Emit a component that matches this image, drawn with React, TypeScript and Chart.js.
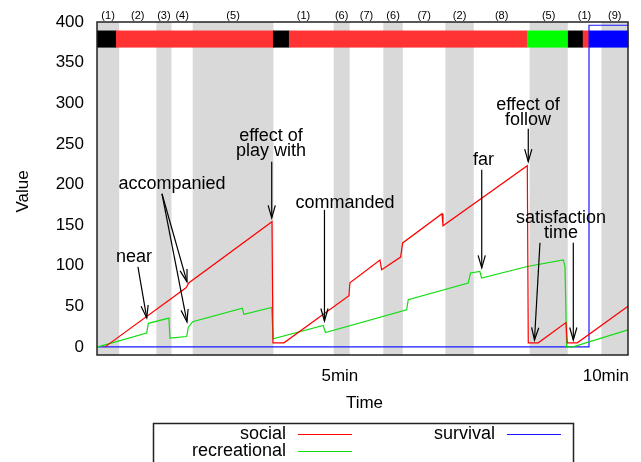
import React, { useEffect, useRef } from "react";
import { Chart, registerables } from "chart.js";

Chart.register(...registerables);

const FONT = '"Liberation Sans", Arial, Helvetica, sans-serif';

// ---- data (time in seconds, value) ----
const SERIES_NAMES = ["social", "recreational", "survival"];

const SOCIAL_T = [35, 126.4, 129.8, 223.4, 224.5, 236.9, 310.2, 311.3, 345.2, 347.1, 368.5, 370.8, 415.2, 416.3, 511.4, 512.5, 523.8, 555.0, 556.5, 567.8, 625];
const SOCIAL_V = [0, 72.7, 79, 154, 5, 5, 63, 79, 107, 95, 110.6, 128, 164, 149, 223, 5, 5, 30, 5, 5, 50];

const RECREATIONAL_T = [27, 82, 83.9, 107.2, 108.3, 127.2, 129, 133.9, 189.9, 191.8, 223, 224.8, 281.2, 283.7, 375.3, 377.1, 444.7, 447.4, 457.9, 459.8, 511.4, 552, 553.9, 555.8, 563, 625];
const RECREATIONAL_V = [0, 17, 29, 35.4, 10.7, 12.7, 24, 31, 47.7, 40, 48.5, 10, 26.3, 17.7, 45.6, 58, 78.5, 91, 93, 84.7, 99, 107, 99, 0, 0, 21];

const SURVIVAL_T = [26, 581, 581, 625];
const SURVIVAL_V = [0, 0, 396, 396];

const Y_TICKS = [0, 50, 100, 150, 200, 250, 300, 350, 400];
const X_TICKS = [300, 600];
const X_TICK_LABELS = ["5min", "10min"];

const BAND_LABELS = ["(1)", "(2)", "(3)", "(4)", "(5)", "(1)", "(6)", "(7)", "(6)", "(7)", "(2)", "(8)", "(5)", "(1)", "(9)"];
const BAND_EDGES = [26, 51, 93, 110, 134, 225, 293, 311, 349, 371, 419, 451, 514, 557, 595, 625];

const STATE_EDGES = [26, 47.4, 224.5, 242.5, 511, 557.2, 574, 581, 625];
const STATE_NAMES = ["none", "social", "none", "social", "recreational", "none", "social", "survival"];

const ANNOTATIONS = [
  { lines: ["near"], at: [67.7, 110.1], arrows: [[[72.2, 98.5], [82.1, 35.6]]] },
  { lines: ["accompanied"], at: [110.6, 200.9], arrows: [[[99.3, 188.5], [127.5, 80]], [[99.3, 188.5], [127.5, 30.7]]] },
  { lines: ["effect of", "play with"], at: [222.3, 249.8], arrows: [[[223.1, 228], [223.1, 158.9]]] },
  { lines: ["commanded"], at: [305.8, 177.4], arrows: [[[282.6, 168.8], [282.6, 31.9]]] },
  { lines: ["far"], at: [462, 230.1], arrows: [[[460, 218.1], [460, 97.3]]] },
  { lines: ["effect of", "follow"], at: [512.2, 288.6], arrows: [[[512.5, 268.7], [512.5, 228]]] },
  { lines: ["satisfaction", "time"], at: [549.4, 149.1], arrows: [[[525.7, 128.1], [519.5, 8.5]], [[563.3, 128.1], [563.3, 8.5]]] },
];

// ---- styles ----
const LINE_COLORS: Record<string, string> = { social: "#ff0000", recreational: "#11dd11", survival: "#1a1aff" };
const STATE_COLORS: Record<string, string> = { none: "#000000", social: "#ff3333", recreational: "#00ff00", survival: "#0000ff" };
const STRIP_LOW = 368.5;
const STRIP_HIGH = 389.5;
const BAND_GRAY = "#d9d9d9";

function drawArrow(ctx: CanvasRenderingContext2D, x0: number, y0: number, x1: number, y1: number) {
  ctx.beginPath();
  ctx.moveTo(x0, y0);
  ctx.lineTo(x1, y1);
  ctx.stroke();
  const ang = Math.atan2(y1 - y0, x1 - x0);
  const L = 13;
  const H = 0.28;
  ctx.beginPath();
  ctx.moveTo(x1 - L * Math.cos(ang - H), y1 - L * Math.sin(ang - H));
  ctx.lineTo(x1, y1);
  ctx.lineTo(x1 - L * Math.cos(ang + H), y1 - L * Math.sin(ang + H));
  ctx.stroke();
}

const decor = {
  id: "decor",
  beforeDatasetsDraw(chart: any) {
    const { ctx, chartArea: a, scales } = chart;
    const x = scales.x;
    const y = scales.y;
    ctx.save();
    ctx.fillStyle = BAND_GRAY;
    for (let i = 0; i < BAND_LABELS.length; i++) {
      if (i % 2 === 0) {
        const x0 = x.getPixelForValue(BAND_EDGES[i]);
        const x1 = x.getPixelForValue(BAND_EDGES[i + 1]);
        ctx.fillRect(x0, a.top, x1 - x0, a.bottom - a.top);
      }
    }
    const yt = y.getPixelForValue(STRIP_HIGH);
    const yb = y.getPixelForValue(STRIP_LOW);
    for (let i = 0; i < STATE_NAMES.length; i++) {
      const x0 = x.getPixelForValue(STATE_EDGES[i]);
      const x1 = x.getPixelForValue(STATE_EDGES[i + 1]);
      ctx.fillStyle = STATE_COLORS[STATE_NAMES[i]];
      ctx.fillRect(x0, yt, x1 - x0 + 0.5, yb - yt);
    }
    ctx.restore();
  },
  afterDraw(chart: any) {
    const { ctx, chartArea: a, scales } = chart;
    const x = scales.x;
    const y = scales.y;
    ctx.save();
    // frame
    ctx.strokeStyle = "#222";
    ctx.lineWidth = 1.5;
    ctx.strokeRect(a.left, a.top, a.right - a.left, a.bottom - a.top);

    // band labels
    ctx.fillStyle = "#000";
    ctx.font = `11px ${FONT}`;
    ctx.textAlign = "center";
    ctx.textBaseline = "middle";
    for (let i = 0; i < BAND_LABELS.length; i++) {
      const cx = (x.getPixelForValue(BAND_EDGES[i]) + x.getPixelForValue(BAND_EDGES[i + 1])) / 2;
      ctx.fillText(BAND_LABELS[i], cx, 16);
    }

    // annotations
    ctx.font = `18px ${FONT}`;
    ctx.strokeStyle = "#000";
    ctx.lineWidth = 1.2;
    for (const an of ANNOTATIONS) {
      const cx = x.getPixelForValue(an.at[0]);
      const cy = y.getPixelForValue(an.at[1]);
      const n = an.lines.length;
      an.lines.forEach((ln, i) => {
        ctx.fillText(ln, cx, cy + (i - (n - 1) / 2) * 15);
      });
      for (const ar of an.arrows) {
        drawArrow(
          ctx,
          x.getPixelForValue(ar[0][0]),
          y.getPixelForValue(ar[0][1]),
          x.getPixelForValue(ar[1][0]),
          y.getPixelForValue(ar[1][1])
        );
      }
    }

    // axis titles
    ctx.font = `17px ${FONT}`;
    ctx.textBaseline = "alphabetic";
    ctx.textAlign = "center";
    ctx.fillText("Time", (a.left + a.right) / 2 + 2, 408);
    ctx.save();
    ctx.translate(28, (a.top + a.bottom) / 2 + 3);
    ctx.rotate(-Math.PI / 2);
    ctx.fillText("Value", 0, 0);
    ctx.restore();

    // legend
    ctx.strokeStyle = "#222";
    ctx.lineWidth = 1.5;
    ctx.strokeRect(153.5, 423.5, 420, 60);
    ctx.font = `18px ${FONT}`;
    ctx.textAlign = "right";
    ctx.textBaseline = "middle";
    chart.data.datasets.forEach((ds: any, i: number) => {
      const col = Math.floor(i / 2);
      const row = i % 2;
      const tx = 286 + col * 209;
      const ty = 434.5 + row * 17;
      ctx.fillStyle = "#000";
      ctx.fillText(ds.label, tx, ty);
      ctx.strokeStyle = ds.borderColor;
      ctx.lineWidth = 1.2;
      ctx.beginPath();
      ctx.moveTo(tx + 12, ty);
      ctx.lineTo(tx + 66, ty);
      ctx.stroke();
    });
    ctx.restore();
  },
};

export default function App() {
  const ref = useRef<HTMLCanvasElement>(null);
  useEffect(() => {
    const canvas = ref.current!;
    const mk = (t: number[], v: number[]) => t.map((tt, i) => ({ x: tt, y: v[i] }));
    const series = [mk(SOCIAL_T, SOCIAL_V), mk(RECREATIONAL_T, RECREATIONAL_V), mk(SURVIVAL_T, SURVIVAL_V)];
    const chart = new Chart(canvas, {
      type: "line",
      data: {
        datasets: SERIES_NAMES.map((name, i) => ({
          label: name,
          data: series[i],
          borderColor: LINE_COLORS[name],
          backgroundColor: LINE_COLORS[name],
          borderWidth: 1.2,
          pointRadius: 0,
          tension: 0,
          fill: false,
        })),
      },
      options: {
        responsive: false,
        animation: false,
        devicePixelRatio: 1,
        events: [],
        layout: { padding: { left: 0, top: 22, right: 13, bottom: 0 } },
        plugins: { legend: { display: false }, tooltip: { enabled: false } },
        scales: {
          x: {
            type: "linear",
            min: 26,
            max: 625,
            grid: { display: false, drawTicks: false },
            border: { display: false },
            afterBuildTicks: (s: any) => {
              s.ticks = X_TICKS.map((v) => ({ value: v }));
            },
            ticks: {
              callback: (v: any) => X_TICK_LABELS[X_TICKS.indexOf(Number(v))] ?? "",
              font: { family: FONT, size: 17 },
              color: "#000",
              padding: 11,
              maxRotation: 0,
              autoSkip: false,
            },
            afterFit: (s: any) => {
              s.height = 107;
              s.paddingLeft = 0;
              s.paddingRight = 0;
            },
          },
          y: {
            type: "linear",
            min: -10,
            max: 400,
            grid: { display: false, drawTicks: false },
            border: { display: false },
            afterBuildTicks: (s: any) => {
              s.ticks = Y_TICKS.map((v) => ({ value: v }));
            },
            ticks: {
              font: { family: FONT, size: 17 },
              color: "#000",
              padding: 13,
              autoSkip: false,
            },
            afterFit: (s: any) => {
              s.width = 97;
              s.paddingTop = 0;
              s.paddingBottom = 0;
            },
          },
        },
      } as any,
      plugins: [decor],
    });
    return () => chart.destroy();
  }, []);
  return (
    <div style={{ position: "absolute", left: 0, top: 0, width: 641, height: 462, background: "#fff" }}>
      <canvas ref={ref} width={641} height={462} style={{ display: "block" }} />
    </div>
  );
}
